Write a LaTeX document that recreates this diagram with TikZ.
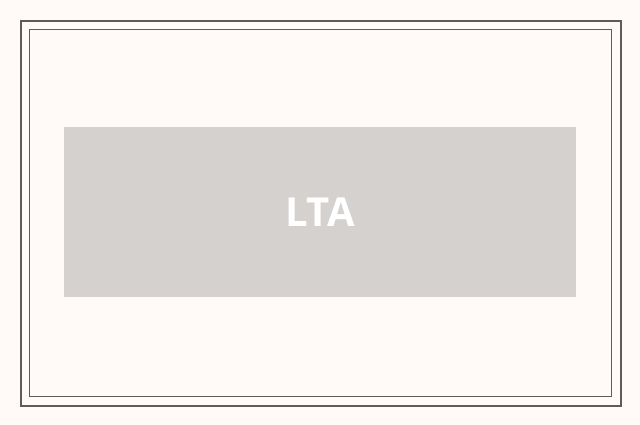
\documentclass[tikz,border=0pt]{standalone}
\usepackage{fontspec}
\setmainfont{Open Sans}
\definecolor{bgcol}{HTML}{FFFAF7}
\definecolor{framecol}{HTML}{5F5B59}
\definecolor{boxcol}{HTML}{D4D1CE}
\begin{document}
\begin{tikzpicture}[x=1pt,y=-1pt,
  outerframe/.style={draw=framecol,line width=2pt},
  innerframe/.style={draw=framecol,line width=1pt},
  labelbox/.style={fill=boxcol,draw=none,minimum width=512pt,minimum height=169.5pt,inner sep=0pt,
    text=white,font=\fontsize{40}{40}\selectfont\bfseries}]
\useasboundingbox[fill=bgcol] (0,0) rectangle (640,425);
\draw[outerframe] (21,21) rectangle (621,406);
\draw[innerframe] (29.5,29.5) rectangle (611.5,396.5);
\node[labelbox] (lta) at (320,211.75) {\raisebox{0pt}{LTA}};
\end{tikzpicture}
\end{document}
